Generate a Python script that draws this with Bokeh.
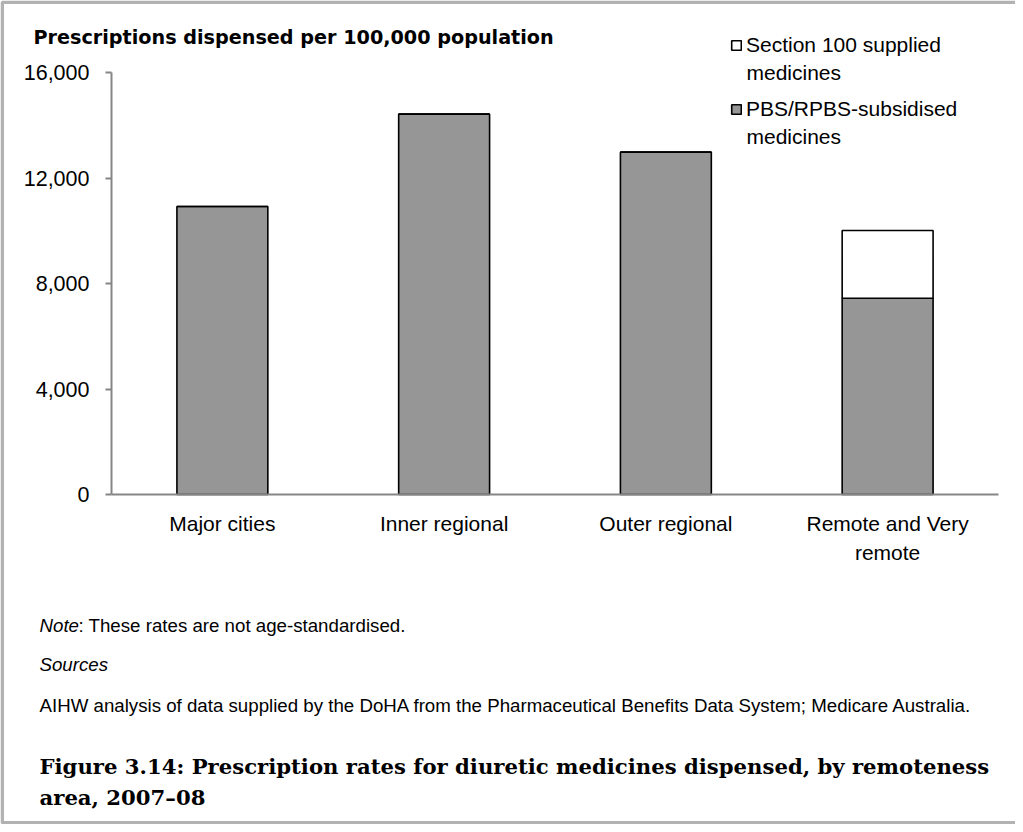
from bokeh.plotting import figure
from bokeh.models import (Range1d, FixedTicker, NumeralTickFormatter, BoxAnnotation,
                          Label, Legend, LegendItem, ColumnDataSource)
from bokeh.embed import file_html
from bokeh.resources import INLINE

# ---- data ----
categories = ["Major cities", "Inner regional", "Outer regional", "Remote and Very remote"]
category_labels = ["Major cities", "Inner regional", "Outer regional", "Remote and Very\nremote"]
pbs_rpbs = [10920, 14420, 12980, 7440]
section100 = [0, 0, 0, 2570]
y_ticks = [0, 4000, 8000, 12000, 16000]
legend_labels = ["Section 100 supplied", "PBS/RPBS-subsidised"]

SANS = "Liberation Sans"
SERIF = "DejaVu Serif"

W, H = 1015, 824
# layout (pixel positions of the plot area inside the canvas)
AX_L, AX_R = 111, 998        # x-axis extent
Y_TOP_PX, Y_ZERO_PX = 72, 494  # pixel rows of top tick and zero
YMAX = y_ticks[-1]
ncat = len(categories)

px_per_cat = (AX_R - AX_L) / ncat
units_per_px = YMAX / (Y_ZERO_PX - Y_TOP_PX)

xpos = [i + 0.5 for i in range(ncat)]
src = ColumnDataSource(dict(x=xpos, pbs=pbs_rpbs, s100=section100))

p = figure(x_range=Range1d(-AX_L / px_per_cat, ncat + (W - AX_R) / px_per_cat),
           y_range=Range1d(-(H - Y_ZERO_PX) * units_per_px, YMAX + Y_TOP_PX * units_per_px),
           width=W, height=H, output_backend="svg", toolbar_location=None,
           min_border=0)

rs = p.vbar_stack(["pbs", "s100"], x="x", width=0.41, source=src,
                  fill_color=["#969696", "white"], line_color="black", line_width=1.6)

p.xgrid.visible = False
p.ygrid.visible = False
p.outline_line_color = None
p.background_fill_color = "white"
p.border_fill_color = "white"

AX = "#868686"
xa = p.xaxis[0]
xa.fixed_location = 0
xa.bounds = (0, ncat)
xa.ticker = FixedTicker(ticks=xpos)
xa.major_label_overrides = {x: lab for x, lab in zip(xpos, category_labels)}
xa.axis_line_color = AX
xa.axis_line_width = 2
xa.major_tick_line_color = None
xa.minor_tick_line_color = None
xa.major_label_text_font = SANS
xa.major_label_text_font_size = "21px"
xa.major_label_text_color = "black"
xa.major_label_standoff = 11
xa.major_label_text_line_height = 1.3

ya = p.yaxis[0]
ya.fixed_location = 0
ya.bounds = (0, YMAX)
ya.ticker = FixedTicker(ticks=y_ticks)
ya.formatter = NumeralTickFormatter(format="0,0")
ya.axis_line_color = AX
ya.axis_line_width = 2
ya.major_tick_line_color = AX
ya.major_tick_line_width = 2
ya.major_tick_out = 6
ya.major_tick_in = 0
ya.minor_tick_line_color = None
ya.major_label_text_font = SANS
ya.major_label_text_font_size = "21.5px"
ya.major_label_text_color = "black"
ya.major_label_standoff = 16

# legend: location is the bottom-left corner of the legend box
legend = Legend(items=[LegendItem(label=legend_labels[0], renderers=[rs[1]]),
                       LegendItem(label=legend_labels[1], renderers=[rs[0]])],
                location=(730, H - 121), orientation="vertical",
                glyph_width=12, glyph_height=12, label_standoff=4,
                padding=0, margin=0, spacing=40,
                border_line_alpha=0, background_fill_alpha=0,
                label_text_font=SANS, label_text_font_size="21px",
                label_text_color="black")
p.add_layout(legend, "center")


def txt(s, sx, sy, size, font=SANS, style="normal", align="left"):
    p.add_layout(Label(x=sx, y=H - sy, x_units="screen", y_units="screen",
                       text=s, text_font=font, text_font_size=size,
                       text_font_style=style, text_align=align,
                       text_baseline="middle", text_color="black"))


txt("medicines", 746, 72, "21px")
txt("medicines", 746, 136, "21px")
txt("Prescriptions dispensed per 100,000 population", 33, 37, "19.2px",
    font="DejaVu Sans", style="bold")
txt("Note", 39, 625, "18.7px", style="italic")
txt(": These rates are not age-standardised.", 78, 625, "18.7px")
txt("Sources", 39, 664, "18.7px", style="italic")
txt("AIHW analysis of data supplied by the DoHA from the Pharmaceutical Benefits "
    "Data System; Medicare Australia.", 39, 705, "18.7px")
txt("Figure 3.14: Prescription rates for diuretic medicines dispensed, by remoteness",
    39, 766, "21.2px", font=SERIF, style="bold")
txt("area, 2007\u201308", 39, 797, "21.2px", font=SERIF, style="bold")

# page frame (top, left, bottom rules)
p.add_layout(BoxAnnotation(left=1.75, right=W + 50, bottom=1.75, top=H - 1.75,
                           left_units="screen", right_units="screen",
                           bottom_units="screen", top_units="screen",
                           fill_alpha=0, line_color="black", line_width=3.5))

open("out.html", "w").write(file_html(p, INLINE))
